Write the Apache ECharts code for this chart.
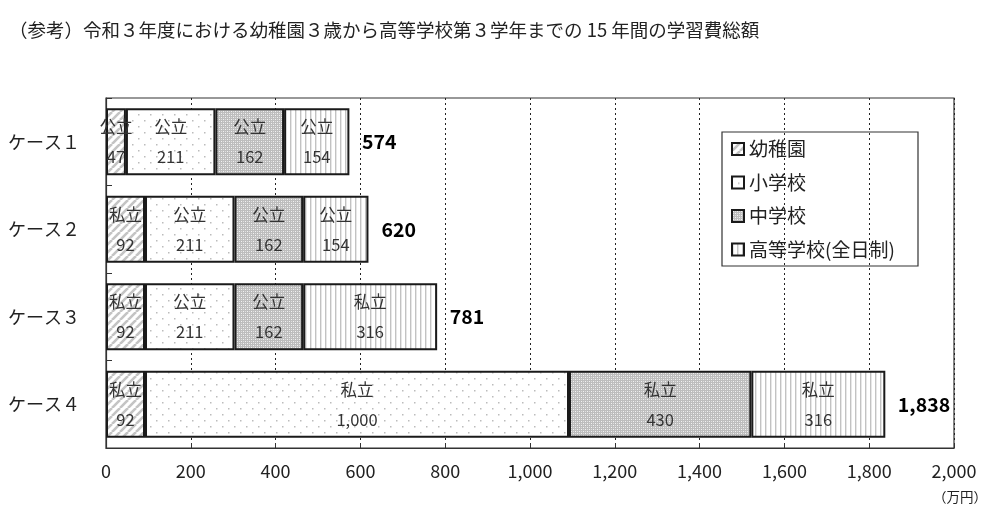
<!DOCTYPE html>
<html>
<head>
<meta charset="utf-8">
<script src="https://cdn.jsdelivr.net/npm/echarts@6/dist/echarts.min.js"></script>
<style>
  html, body { margin: 0; padding: 0; background: #fff; }
  #main { width: 1000px; height: 522px; }
</style>
</head>
<body>
<div id="main"></div>
<script>
// categories and values (万円)
var cases = ['ケース１', 'ケース２', 'ケース３', 'ケース４'];
var kinder = [47, 92, 92, 92];
var elementary = [211, 211, 211, 1000];
var middle = [162, 162, 162, 430];
var high = [154, 154, 316, 316];
var totals = [574, 620, 781, 1838];
// 公立 / 私立 per segment
var kinderType = ['公立', '私立', '私立', '私立'];
var elementaryType = ['公立', '公立', '公立', '私立'];
var middleType = ['公立', '公立', '公立', '私立'];
var highType = ['公立', '公立', '私立', '私立'];
var seriesNames = ['幼稚園', '小学校', '中学校', '高等学校(全日制)'];
var xTicks = [0, 200, 400, 600, 800, 1000, 1200, 1400, 1600, 1800, 2000];

function fmt(v) {
    return Number(v).toLocaleString('en-US');
}

// simple canvas tiles for the hatch fills
function tile(w, h, draw) {
    var c = document.createElement('canvas');
    c.width = w;
    c.height = h;
    var ctx = c.getContext('2d');
    ctx.fillStyle = '#fff';
    ctx.fillRect(0, 0, w, h);
    draw(ctx);
    return { image: c, repeat: 'repeat' };
}

var stripeFill = tile(8, 8, function (ctx) {
    ctx.strokeStyle = '#c4c4c4';
    ctx.lineWidth = 2.6;
    [-8, 0, 8].forEach(function (o) {
        ctx.beginPath();
        ctx.moveTo(o, 8);
        ctx.lineTo(o + 8, 0);
        ctx.stroke();
    });
});
var dotFill = tile(12, 12, function (ctx) {
    ctx.fillStyle = '#bcbcbc';
    ctx.fillRect(0, 0, 1.5, 1.5);
    ctx.fillRect(6, 6, 1.5, 1.5);
});
var halftoneFill = tile(4, 4, function (ctx) {
    ctx.fillStyle = '#bdbdbd';
    ctx.fillRect(0, 0, 4, 4);
    ctx.fillStyle = '#f2f2f2';
    ctx.fillRect(1, 1, 1, 1);
    ctx.fillRect(3, 3, 1, 1);
    ctx.fillStyle = '#dedede';
    ctx.fillRect(1, 3, 1, 1);
    ctx.fillRect(3, 1, 1, 1);
});
var vlineFill = tile(5, 4, function (ctx) {
    ctx.fillStyle = '#c2c2c2';
    ctx.fillRect(0, 0, 1.4, 4);
});

function barSeries(name, values, types, fill) {
    return {
        name: name,
        type: 'bar',
        stack: 'total',
        barWidth: 67,
        itemStyle: { color: fill, borderColor: '#1a1a1a', borderWidth: 2 },
        label: {
            show: true,
            position: 'inside',
            fontSize: 16.5,
            lineHeight: 30,
            color: '#333',
            formatter: function (p) {
                return types[p.dataIndex] + '\n' + fmt(p.value);
            }
        },
        data: values
    };
}

var myChart = echarts.init(document.getElementById('main'));
var option = {
    animation: false,
    textStyle: { fontFamily: '"Noto Sans CJK JP", "Noto Sans", sans-serif' },
    title: {
        text: '（参考）令和３年度における幼稚園３歳から高等学校第３学年までの 15 年間の学習費総額',
        left: 4,
        top: 16,
        textStyle: { fontSize: 18.5, fontWeight: 'normal', color: '#222' }
    },
    grid: {
        left: 106, right: 46, top: 98, bottom: 74,
        show: true, borderColor: '#333', borderWidth: 1.2
    },
    legend: {
        orient: 'vertical',
        left: 731,
        top: 139,
        icon: 'rect',
        itemWidth: 12,
        itemHeight: 12,
        itemGap: 13.5,
        padding: 0,
        textStyle: { fontSize: 19, lineHeight: 20, color: '#222' },
        data: seriesNames
    },
    xAxis: {
        type: 'value',
        min: 0,
        max: 2000,
        interval: 200,
        axisLine: { show: true, lineStyle: { color: '#333', width: 1.2 } },
        axisTick: { show: true, inside: true, length: 5, lineStyle: { color: '#333' } },
        splitLine: { show: true, lineStyle: { color: '#222', type: [2, 3], width: 1 } },
        axisLabel: {
            fontSize: 18, color: '#222', margin: 14,
            formatter: function (v) { return xTicks.indexOf(v) >= 0 ? fmt(v) : ''; }
        }
    },
    yAxis: {
        type: 'category',
        inverse: true,
        data: cases,
        axisLine: { show: true, lineStyle: { color: '#333', width: 1.2 } },
        axisTick: { show: true, inside: true, length: 6, lineStyle: { color: '#333' } },
        axisLabel: { fontSize: 18, color: '#222', align: 'left', margin: 98 }
    },
    graphic: [
        {
            type: 'rect',
            shape: { x: 722, y: 132, width: 196, height: 134 },
            style: { fill: '#fff', stroke: '#333', lineWidth: 1.2 },
            z: 0
        },
        {
            type: 'text',
            x: 960,
            y: 497,
            style: { text: '（万円）', fontSize: 13.5, fill: '#222', align: 'center', verticalAlign: 'middle',
                     fontFamily: '"Noto Sans CJK JP", sans-serif' }
        }
    ],
    series: [
        barSeries(seriesNames[0], kinder, kinderType, stripeFill),
        barSeries(seriesNames[1], elementary, elementaryType, dotFill),
        barSeries(seriesNames[2], middle, middleType, halftoneFill),
        barSeries(seriesNames[3], high, highType, vlineFill),
        {
            name: 'total',
            type: 'scatter',
            silent: true,
            symbolSize: 1,
            itemStyle: { color: 'rgba(0,0,0,0)', opacity: 1 },
            label: {
                show: true,
                position: 'right',
                distance: 12,
                fontSize: 19.5,
                fontWeight: 'bold',
                color: '#000',
                formatter: function (p) { return fmt(p.value[0]); }
            },
            data: totals.map(function (t, i) { return [t, i]; })
        }
    ]
};
myChart.setOption(option);
</script>
</body>
</html>
